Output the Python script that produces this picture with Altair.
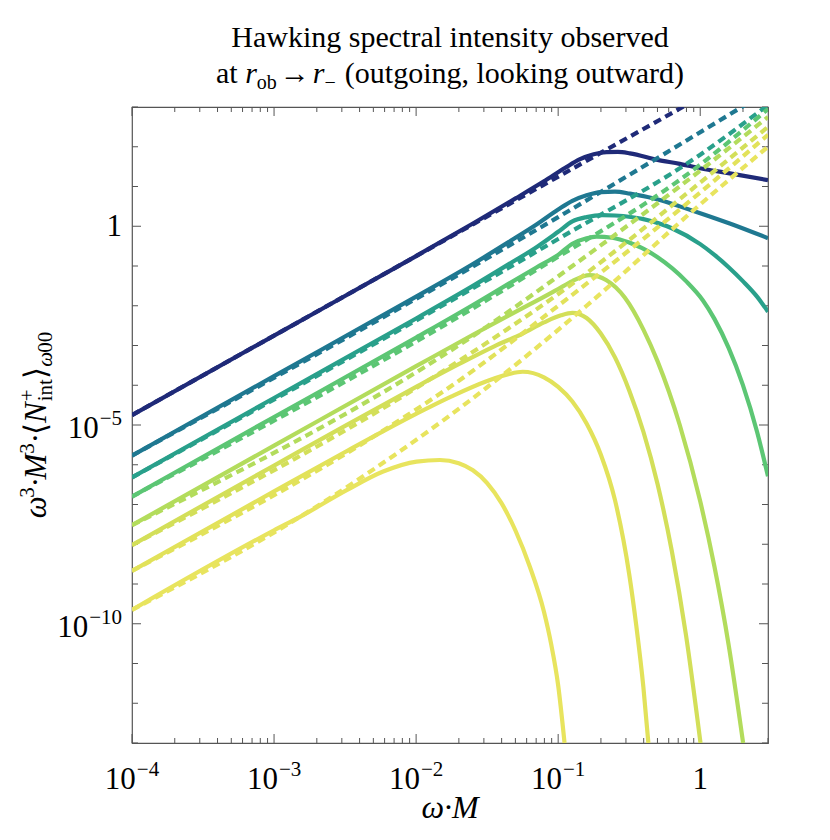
import altair as alt
import pandas as pd

FONT = "Liberation Serif"
FRAME = "#555555"

# ---------------- data: log10(omega*M) and log10(intensity) -------------
NAMES = ["q1", "q2", "q3", "q4", "q5", "q6", "q7", "q8"]
COLORS = ["#1f2a78", "#1f7891", "#29a08b", "#5cc674", "#b3dc5c", "#d3df59", "#e2e25a", "#e8e45e"]

s1_lx = [-4, -3, -2, -1.6, -1.3, -1.1, -0.95, -0.85, -0.75, -0.66, -0.58, -0.495, -0.3, -0.144, 0.0, 0.208, 0.477]
s1_ly = [-4.75, -2.75, -0.75, 0.07, 0.70, 1.13, 1.47, 1.68, 1.81, 1.865, 1.87, 1.835, 1.67, 1.57, 1.46, 1.33, 1.16]

s2_lx = [-4, -3, -2, -1.6, -1.35, -1.15, -1.0, -0.9, -0.8, -0.7, -0.6, -0.495, -0.284, -0.144, 0.0, 0.208, 0.477]
s2_ly = [-5.77, -3.77, -1.77, -0.95, -0.40, 0.05, 0.42, 0.64, 0.78, 0.86, 0.87, 0.82, 0.66, 0.50, 0.33, 0.07, -0.30]

s3_lx = [-4, -3, -2, -1.6, -1.35, -1.15, -1.0, -0.9, -0.8, -0.69, -0.6, -0.4, -0.2, 0.0, 0.1, 0.2, 0.3, 0.4, 0.477]
s3_ly = [-6.32, -4.32, -2.32, -1.50, -0.96, -0.52, -0.14, 0.12, 0.23, 0.28, 0.27, 0.18, -0.05, -0.45, -0.72, -1.03, -1.38, -1.77, -2.15]

s4_lx = [-4, -3, -2, -1.6, -1.35, -1.15, -1.0, -0.9, -0.8, -0.73, -0.62, -0.5, -0.3, -0.1, 0.018, 0.1, 0.2, 0.3, 0.4, 0.477]
s4_ly = [-6.80, -4.80, -2.80, -1.98, -1.45, -1.03, -0.72, -0.44, -0.30, -0.26, -0.29, -0.41, -0.78, -1.38, -1.86, -2.33, -3.06, -3.99, -5.17, -6.29]

s5_lx = [-4, -3, -2, -1.6, -1.35, -1.15, -1.0, -0.9, -0.78, -0.66, -0.53, -0.4, -0.3, -0.144, 0.0, 0.1, 0.2, 0.302]
s5_ly = [-7.52, -5.52, -3.52, -2.73, -2.25, -1.87, -1.58, -1.38, -1.23, -1.36, -1.80, -2.60, -3.40, -5.00, -6.92, -8.56, -10.53, -13.0]

s6_lx = [-4, -3, -2.5, -2, -1.7, -1.45, -1.25, -1.1, -0.98, -0.9, -0.8, -0.7, -0.6, -0.5, -0.4, -0.3, -0.2, -0.1, 0.002]
s6_ly = [-8.02, -6.02, -5.02, -4.04, -3.47, -3.02, -2.70, -2.42, -2.24, -2.18, -2.31, -2.70, -3.30, -4.13, -5.17, -6.49, -8.17, -10.29, -13.0]

s7_lx = [-4, -3, -2.5, -2.0, -1.75, -1.504, -1.35, -1.25, -1.1, -1.0, -0.9, -0.8, -0.7, -0.6, -0.5, -0.45, -0.4, -0.365]
s7_ly = [-8.67, -6.67, -5.68, -4.72, -4.28, -3.90, -3.72, -3.66, -3.80, -4.04, -4.41, -4.96, -5.74, -6.89, -8.75, -10.05, -11.6, -13.0]

s8_lx = [-4, -3, -2.817, -2.489, -2.232, -1.997, -1.833, -1.7, -1.6, -1.5, -1.4, -1.3, -1.2, -1.1, -1.05, -1.0, -0.955]
s8_ly = [-9.65, -7.65, -7.31, -6.64, -6.17, -5.92, -5.88, -5.96, -6.14, -6.46, -6.96, -7.66, -8.56, -9.70, -10.50, -11.55, -13.0]

# dashed (approximation) curves
d1_lx = [-4, 0.477]
d1_ly = [-4.75, 4.20]
d2_lx = [-4, -1.0, 0.477]
d2_ly = [-5.77, 0.23, 3.40]
d3_lx = [-4, -1.0, 0.0, 0.477]
d3_ly = [-6.32, -0.32, 1.80, 3.05]
d4_lx = [-4, -1.2, 0.0, 0.477]
d4_ly = [-6.80, -1.20, 1.55, 2.95]
d5_lx = [-4, -1.5, -0.9, 0.0, 0.477]
d5_ly = [-7.52, -2.52, -1.0, 1.40, 2.75]
d6_lx = [-4, -1.8, -0.94, 0.0, 0.477]
d6_ly = [-8.02, -3.62, -1.55, 1.10, 2.50]
d7_lx = [-4, -2.2, -1.74, -1.0, 0.0, 0.477]
d7_ly = [-8.67, -5.07, -3.99, -2.0, 0.85, 2.30]
d8_lx = [-4, -2.7, -1.5, -0.8, 0.0, 0.477]
d8_ly = [-9.65, -7.05, -4.05, -2.0, 0.55, 2.0]

SOLID = list(zip(NAMES, [s1_lx, s2_lx, s3_lx, s4_lx, s5_lx, s6_lx, s7_lx, s8_lx],
                 [s1_ly, s2_ly, s3_ly, s4_ly, s5_ly, s6_ly, s7_ly, s8_ly]))
DASH = list(zip(NAMES, [d1_lx, d2_lx, d3_lx, d4_lx, d5_lx, d6_lx, d7_lx, d8_lx],
                [d1_ly, d2_ly, d3_ly, d4_ly, d5_ly, d6_ly, d7_ly, d8_ly]))

X_MAJOR = [1e-4, 1e-3, 1e-2, 1e-1, 1.0]
X_MINOR = [m * 10.0 ** k for k in range(-4, 1) for m in range(2, 10) if m * 10.0 ** k <= 3]
Y_MAJOR = [1.0, 1e-5, 1e-10]
Y_MINOR = [10.0 ** k for k in range(-13, 4) if k not in (0, -5, -10)]

X_LABELS = [(1e-4, "10", "\u22124"), (1e-3, "10", "\u22123"), (1e-2, "10", "\u22122"), (1e-1, "10", "\u22121"), (1.0, "1", "")]
Y_LABELS = [(1.0, "1", ""), (1e-5, "10", "\u22125"), (1e-10, "10", "\u221210")]


def build(curves):
    rows = []
    for name, lx, ly in curves:
        for i, (a, b) in enumerate(zip(lx, ly)):
            rows.append({"series": name, "x": 10.0 ** a, "y": 10.0 ** b, "i": i})
    return pd.DataFrame(rows)


W = H = 636
xs = alt.Scale(type="log", domain=[1e-4, 3], nice=False)
ys = alt.Scale(type="log", domain=[1e-13, 1e3], nice=False)
cs = alt.Scale(domain=NAMES, range=COLORS)
ONE = pd.DataFrame({"k": [0]})


def lines(df, dash=None):
    kw = dict(strokeWidth=4.2, interpolate="monotone", clip=True, strokeCap="butt")
    if dash:
        kw["strokeDash"] = dash
    return alt.Chart(df).mark_line(**kw).encode(
        x=alt.X("x:Q", scale=xs, axis=None),
        y=alt.Y("y:Q", scale=ys, axis=None),
        color=alt.Color("series:N", scale=cs, legend=None),
        order="i:Q",
    )


def xticks(vals, ln):
    d = pd.DataFrame({"x": vals})
    enc = dict(x=alt.X("x:Q", scale=xs, axis=None))
    return [
        alt.Chart(d).mark_rule(color=FRAME, strokeWidth=1).encode(y=alt.value(H), y2=alt.value(H - ln), **enc),
        alt.Chart(d).mark_rule(color=FRAME, strokeWidth=1).encode(y=alt.value(0), y2=alt.value(ln), **enc),
    ]


def yticks(vals, ln):
    d = pd.DataFrame({"y": vals})
    enc = dict(y=alt.Y("y:Q", scale=ys, axis=None))
    return [
        alt.Chart(d).mark_rule(color=FRAME, strokeWidth=1).encode(x=alt.value(0), x2=alt.value(ln), **enc),
        alt.Chart(d).mark_rule(color=FRAME, strokeWidth=1).encode(x=alt.value(W), x2=alt.value(W - ln), **enc),
    ]


def piece(text, x, y, size, italic=False, angle=0, align="left"):
    kw = dict(text=text, font=FONT, fontSize=size, align=align, baseline="alphabetic", color="black")
    if italic:
        kw["fontStyle"] = "italic"
    if angle:
        kw["angle"] = angle
    return alt.Chart(ONE).mark_text(**kw).encode(x=alt.value(x), y=alt.value(y))


layers = []
layers += xticks(X_MINOR, 5) + xticks(X_MAJOR, 9) + yticks(Y_MINOR, 6) + yticks(Y_MAJOR, 9)
layers.append(lines(build(SOLID)))
layers.append(lines(build(DASH), dash=[8, 5]))

# x tick labels
TS, SS = 31, 21
XL_BASE = 682
for v, base, ex in X_LABELS:
    d = pd.DataFrame({"x": [v]})
    if ex:
        ew = (0.564 + 0.5 * (len(ex) - 1)) * SS
        half = (TS + ew + 1) / 2
        layers.append(alt.Chart(d).mark_text(text=base, font=FONT, fontSize=TS, align="left", dx=-half,
                                             baseline="alphabetic", color="black").encode(
            x=alt.X("x:Q", scale=xs, axis=None), y=alt.value(XL_BASE)))
        layers.append(alt.Chart(d).mark_text(text=ex, font=FONT, fontSize=SS, align="left", dx=-half + TS + 1,
                                             baseline="alphabetic", color="black").encode(
            x=alt.X("x:Q", scale=xs, axis=None), y=alt.value(XL_BASE - 13)))
    else:
        layers.append(alt.Chart(d).mark_text(text=base, font=FONT, fontSize=TS, align="center",
                                             baseline="alphabetic", color="black").encode(
            x=alt.X("x:Q", scale=xs, axis=None), y=alt.value(XL_BASE)))

# y tick labels
for v, base, ex in Y_LABELS:
    d = pd.DataFrame({"y": [v]})
    if ex:
        ew = (0.564 + 0.5 * (len(ex) - 1)) * SS
        layers.append(alt.Chart(d).mark_text(text=base, font=FONT, fontSize=TS, align="right", dy=13,
                                             baseline="alphabetic", color="black").encode(
            y=alt.Y("y:Q", scale=ys, axis=None), x=alt.value(-10 - ew - 1)))
        layers.append(alt.Chart(d).mark_text(text=ex, font=FONT, fontSize=SS, align="right", dy=0,
                                             baseline="alphabetic", color="black").encode(
            y=alt.Y("y:Q", scale=ys, axis=None), x=alt.value(-10)))
    else:
        layers.append(alt.Chart(d).mark_text(text=base, font=FONT, fontSize=TS, align="right", dy=10,
                                             baseline="alphabetic", color="black").encode(
            y=alt.Y("y:Q", scale=ys, axis=None), x=alt.value(-10)))

# x axis title
layers.append(piece("\u03c9\u00b7M", W / 2, 711, 32, italic=True, align="center"))

# title
T1, T2S = 30, 20
layers.append(piece("Hawking spectral intensity observed", W / 2, -60, T1, align="center"))
t2 = [("at", T1, False, 0, (0.722 + 0.25) * T1),
      ("r", T1, True, 0, 0.389 * T1),
      ("ob", T2S, False, 6, 1.0 * T2S),
      ("\u2192", T1, False, 0, 1.2 * T1),
      ("r", T1, True, 0, 0.389 * T1),
      ("\u2212", T2S, False, 6, 0.564 * T2S + 0.3 * T1),
      ("(outgoing, looking outward)", T1, False, 0, 11.305 * T1)]
total = sum(p[4] for p in t2)
cx = W / 2 - total / 2
for txt, sz, it, sh, w in t2:
    if txt == "\u2192":
        layers.append(piece(txt, cx + w / 2, -24 + sh, sz, italic=it, align="center"))
    else:
        layers.append(piece(txt, cx, -24 + sh, sz, italic=it))
    cx += w

# y axis title (rotated, reads bottom to top)
YB, YS = 31, 21
yl = [("\u03c9", YB, True, 0, 0.66 * YB),
      ("3", YS, False, -12, 0.5 * YS),
      ("\u00b7", YB, False, 0, 0.25 * YB),
      ("M", YB, True, 0, 0.833 * YB),
      ("3", YS, False, -12, 0.5 * YS),
      ("\u00b7", YB, False, 0, 0.25 * YB),
      ("\u27e8", YB, False, 0, 0.4 * YB),
      ("N", YB, True, 0, 0.70 * YB),
      ("+", YS, False, -12, 0.0),
      ("int", YS, False, 6, 1.06 * YS),
      ("\u27e9", YB, False, 0, 0.4 * YB),
      ("\u03c9", YS, True, 6, 0.66 * YS),
      ("00", YS, False, 6, 1.0 * YS)]
ylen = sum(p[4] for p in yl)
bx = -86
pos = H / 2 + ylen / 2
for txt, sz, it, sh, w in yl:
    layers.append(piece(txt, bx + sh, pos, sz, italic=it, angle=270))
    pos -= w

chart = alt.layer(*layers).properties(
    width=W, height=H,
    autosize=alt.AutoSizeParams(type="none"),
    padding={"left": 124, "top": 99, "right": 46, "bottom": 90},
    background="white",
).configure_view(stroke=FRAME, strokeWidth=1.2)

chart.save("out.html", embed_options={"renderer": "svg", "actions": False})
